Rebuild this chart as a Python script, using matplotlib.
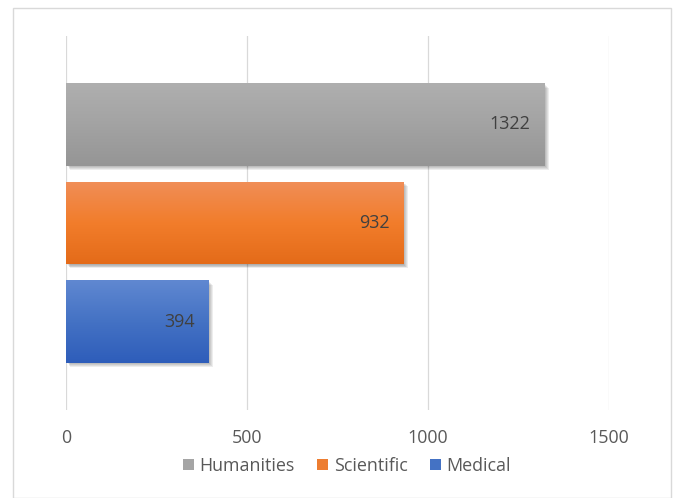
import matplotlib
matplotlib.use("Agg")
import matplotlib.pyplot as plt
import matplotlib.patches as mpatches
import matplotlib.patheffects as pe
import numpy as np
from matplotlib.colors import LinearSegmentedColormap

series = ["Humanities", "Scientific", "Medical"]
values = [1322, 932, 394]
colors_top = ["#AFAFAF", "#F08E58", "#6088D1"]
colors_mid = ["#A3A3A3", "#F27D2B", "#4472C4"]
colors_bot = ["#959595", "#E46B19", "#2E5DBA"]
legend_colors = ["#A5A5A5", "#ED7D31", "#4472C4"]
xticks = [0, 500, 1000, 1500]

plt.rcParams['font.family'] = ['Open Sans', 'DejaVu Sans']
FS = 12.9
TEXT = "#595959"

fig = plt.figure(figsize=(6.76, 4.98), dpi=100)
fig.patch.set_facecolor("white")
W, H = 676, 498
ax = fig.add_axes([66 / W, (H - 410) / H, (609 - 66) / W, (410 - 36) / H])

# positions: Humanities on top
ypos = [2, 1, 0]
bars = ax.barh(ypos, values, height=0.833, color=legend_colors, zorder=2,
               linewidth=0)
shadow = [pe.SimplePatchShadow(offset=(o, -o), shadow_rgbFace="#000000", alpha=0.07)
          for o in (0.6, 1.2, 1.8, 2.4, 3.0)]
for b in bars:
    b.set_path_effects(shadow + [pe.Normal()])

grad = np.linspace(0, 1, 256).reshape(-1, 1)
for b, ct, cm, cb in zip(bars, colors_top, colors_mid, colors_bot):
    cmap = LinearSegmentedColormap.from_list("g", [cb, cm, ct])
    x0, y0 = b.get_x(), b.get_y()
    w, h = b.get_width(), b.get_height()
    im = ax.imshow(grad, extent=[x0, x0 + w, y0, y0 + h], origin="lower",
                   cmap=cmap, aspect="auto", zorder=3, interpolation="bicubic")
    im.set_clip_path(b)

for b, v in zip(bars, values):
    ax.annotate(str(v), xy=(b.get_width(), b.get_y() + b.get_height() / 2),
                xytext=(-10, 0), textcoords="offset points",
                ha="right", va="center", fontsize=FS, color="#404040", zorder=5)

ax.set_xlim(0, 1500)
ax.set_ylim(-0.898, 2.898)
ax.set_xticks(xticks)
ax.set_xticklabels([str(t) for t in xticks])
ax.set_yticks([])
ax.tick_params(axis="x", length=0, pad=14, labelsize=FS, labelcolor=TEXT)
for s in ax.spines.values():
    s.set_visible(False)
ax.grid(axis="x", color="#D9D9D9", linewidth=0.9, zorder=0)
ax.set_axisbelow(True)
ax.set_facecolor("none")

handles = [mpatches.Patch(facecolor=c, edgecolor="none", label=s)
           for s, c in zip(series, legend_colors)]
fig.legend(handles=handles, loc="center", bbox_to_anchor=(347 / W, (H - 466) / H),
           ncol=3, frameon=False, fontsize=FS, labelcolor=TEXT,
           handlelength=0.62, handleheight=0.62, handletextpad=0.3,
           columnspacing=1.25, borderpad=0, borderaxespad=0)

border = mpatches.Rectangle((13 / W, 0.5 / H), (671 - 13) / W, (497 - 8) / H,
                            transform=fig.transFigure, fill=False,
                            edgecolor="#D9D9D9", linewidth=1.0)
fig.patches.append(border)

fig.savefig("out.png", dpi=100)
